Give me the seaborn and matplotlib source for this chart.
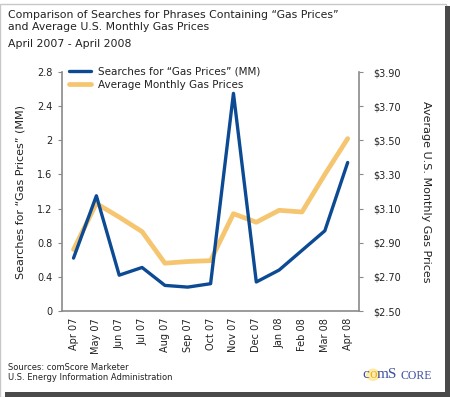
import numpy as np
import pandas as pd
import matplotlib
matplotlib.use("Agg")
import matplotlib.pyplot as plt
import seaborn as sns
from matplotlib.patches import Rectangle, Circle

# Datos
meses = ["Apr 07", "May 07", "Jun 07", "Jul 07", "Aug 07", "Sep 07", "Oct 07",
         "Nov 07", "Dec 07", "Jan 08", "Feb 08", "Mar 08", "Apr 08"]
busquedas = [0.62, 1.35, 0.42, 0.51, 0.30, 0.28, 0.32, 2.55, 0.34, 0.48, 0.71, 0.94, 1.74]
precios = [2.86, 3.13, 3.05, 2.965, 2.78, 2.79, 2.795, 3.07, 3.02, 3.09, 3.08, 3.30, 3.51]

df = pd.DataFrame({"mes": meses, "busquedas": busquedas, "precio": precios})

azul = "#0d4a94"
naranja = "#f5c570"
gris = "#8a8a8a"
texto = "#222222"

sns.set_theme(style="white")
plt.rcParams['font.family'] = ['DejaVu Sans']

fig = plt.figure(figsize=(4.5, 3.97), dpi=100)
ax = fig.add_axes([0.138, 0.2166, 0.66, 0.602])
ax2 = ax.twinx()

sns.lineplot(data=df, x="mes", y="busquedas", ax=ax, color=azul, linewidth=2.4,
             sort=False, label='Searches for “Gas Prices” (MM)', legend=False)
sns.lineplot(data=df, x="mes", y="precio", ax=ax2, color=naranja, linewidth=3.4,
             sort=False, label="Average Monthly Gas Prices", legend=False)
ax.set_zorder(ax2.get_zorder() + 1)
ax.patch.set_visible(False)

ax.set_xlim(-0.5, len(meses) - 0.5)
ax.set_ylim(0, 2.8)
ax.set_yticks(np.arange(0, 2.81, 0.4))
ax.set_yticklabels(["0", "0.4", "0.8", "1.2", "1.6", "2", "2.4", "2.8"])
ax2.set_ylim(2.5, 3.9)
ax2.set_yticks(np.arange(2.5, 3.91, 0.2))
ax2.set_yticklabels([f"${v:.2f}" for v in np.arange(2.5, 3.91, 0.2)])

ax.set_xticks(range(len(meses)))
ax.set_xticklabels(meses, rotation=90)
ax.set_xticks(np.arange(-0.5, len(meses)), minor=True)
ax.tick_params(axis="x", which="major", length=0, pad=5, labelsize=7, labelcolor=texto)
ax.tick_params(axis="x", which="minor", length=3, width=0.8, color=gris, direction="inout")
ax.tick_params(axis="y", length=3, width=0.8, color=gris, labelsize=7, labelcolor=texto, pad=4)
ax2.tick_params(axis="y", length=3, width=0.8, color=gris, labelsize=7, labelcolor=texto, pad=7)

for a in (ax, ax2):
    for lado in a.spines:
        a.spines[lado].set_visible(False)
ax.spines["left"].set_visible(True)
ax.spines["bottom"].set_visible(True)
ax2.spines["right"].set_visible(True)
for a, lado in ((ax, "left"), (ax, "bottom"), (ax2, "right")):
    a.spines[lado].set_color(gris)
    a.spines[lado].set_linewidth(1.2)

ax.set_xlabel("")
ax.set_ylabel('Searches for “Gas Prices” (MM)', fontsize=8, color=texto, labelpad=8)
ax2.set_ylabel("Average U.S. Monthly Gas Prices", fontsize=8, color=texto,
               rotation=-90, labelpad=22)

h1, l1 = ax.get_legend_handles_labels()
h2, l2 = ax2.get_legend_handles_labels()
leg = ax.legend(h1 + h2, l1 + l2, loc="upper left", bbox_to_anchor=(0.0, 1.055),
                frameon=False, fontsize=7.5, handlelength=2.1, handletextpad=0.6,
                labelspacing=0.35, borderaxespad=0.3)
for t in leg.get_texts():
    t.set_color(texto)

# Títulos y fuentes
fig.text(0.018, 0.975, 'Comparison of Searches for Phrases Containing “Gas Prices”\nand Average U.S. Monthly Gas Prices',
         fontsize=7.8, color=texto, va="top", linespacing=1.25)
fig.text(0.018, 0.903, "April 2007 - April 2008", fontsize=7.8, color=texto, va="top")
fig.text(0.018, 0.062, "Sources: comScore Marketer\nU.S. Energy Information Administration",
         fontsize=6, color=texto, va="center", linespacing=1.2)

# Logo comScore
fig.patches.append(Circle((0.829, 0.056), 0.014, transform=fig.transFigure,
                          color="#ffe070", alpha=0.55, zorder=1))
fig.text(0.821, 0.056, "c", fontsize=11, color="#4050a0", va="center", ha="right",
         family="Liberation Serif")
fig.text(0.829, 0.056, "o", fontsize=11, color="#f0b020", va="center", ha="center",
         family="Liberation Serif", zorder=3)
fig.text(0.838, 0.056, "mS", fontsize=11, color="#4050a0", va="center", ha="left",
         family="Liberation Serif")
fig.text(0.889, 0.054, "CORE", fontsize=8.5, color="#4050a0", va="center", ha="left",
         family="Liberation Serif")

# Marco con sombra
fig.patches.append(Rectangle((0.0, 0.0), 0.99, 0.99, transform=fig.transFigure,
                             fill=False, edgecolor="#c8c8c8", linewidth=1))
fig.patches.append(Rectangle((0.989, 0.0), 0.011, 0.985, transform=fig.transFigure,
                             color="#4a4a4a", linewidth=0))
fig.patches.append(Rectangle((0.01, 0.0), 0.99, 0.012, transform=fig.transFigure,
                             color="#4a4a4a", linewidth=0))

fig.savefig("out.png", dpi=100)
